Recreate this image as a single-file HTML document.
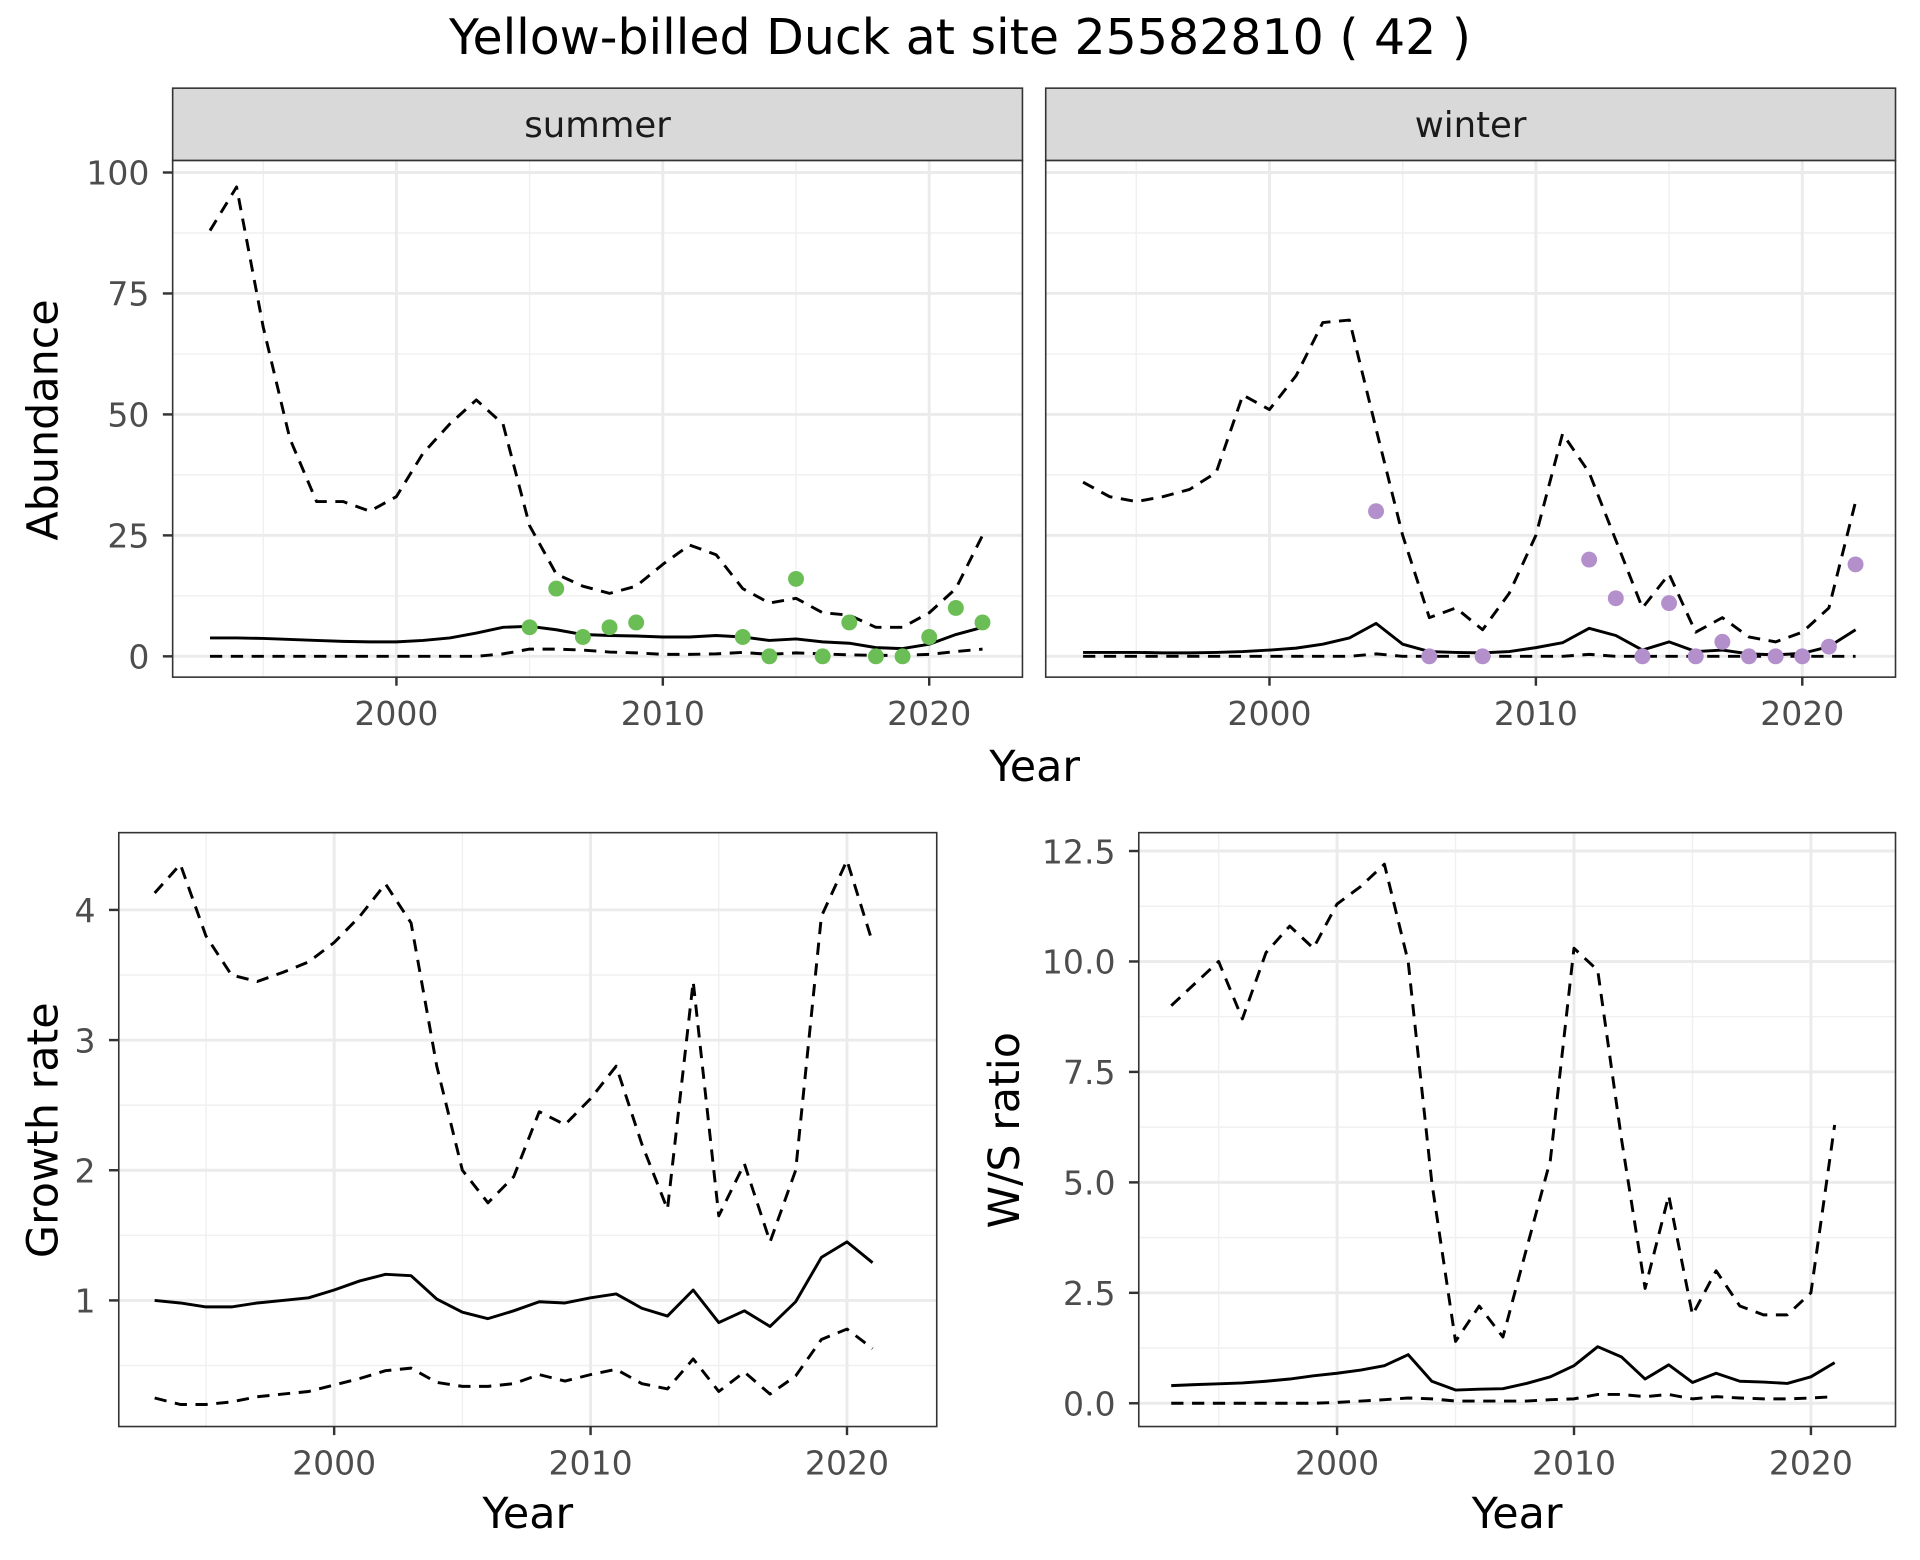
<!DOCTYPE html>
<html><head><meta charset="utf-8"><style>
html,body{margin:0;padding:0;background:#fff;}
svg{display:block;font-family:"DejaVu Sans","Liberation Sans",sans-serif;}
</style></head><body>
<svg id="chart" width="1920" height="1560" viewBox="0 0 1568 1274" xmlns="http://www.w3.org/2000/svg">
<rect width="1568" height="1274" fill="#fff"/>
<text x="784" y="44" text-anchor="middle" font-size="40" fill="#000">Yellow-billed Duck at site 25582810 ( 42 )</text>
<g id="g"></g>
</svg>
<script>
const yearsA = [1993,1994,1995,1996,1997,1998,1999,2000,2001,2002,2003,2004,2005,2006,2007,2008,2009,2010,2011,2012,2013,2014,2015,2016,2017,2018,2019,2020,2021,2022];
const summerMean = [3.8,3.8,3.7,3.5,3.3,3.1,3.0,3.0,3.3,3.8,4.8,6.0,6.2,5.5,4.5,4.3,4.2,4.0,4.0,4.3,4.0,3.3,3.6,3.0,2.7,1.8,1.6,2.5,4.5,6.0];
const summerUpper = [88,97,68,45,32,32,30,33,42,48,53,48,27,17,14.5,13,14.5,19,23,21,14,11,12,9,8.5,6,6,9,14,25];
const summerLower = [0,0,0,0,0,0,0,0,0,0,0,0.5,1.5,1.5,1.3,0.9,0.7,0.4,0.4,0.5,0.8,0.4,0.7,0.5,0.3,0.2,0.2,0.4,1.0,1.5];
const summerObsYears = [2005,2006,2007,2008,2009,2013,2014,2015,2016,2017,2018,2019,2020,2021,2022];
const summerObs = [6,14,4,6,7,4,0,16,0,7,0,0,4,10,7];
const winterMean = [0.8,0.8,0.8,0.7,0.7,0.8,1.0,1.3,1.7,2.5,3.8,6.8,2.5,1.0,0.8,0.7,1.0,1.8,2.8,5.8,4.3,1.3,3.0,1.0,1.3,0.5,0.3,0.6,2.0,5.5];
const winterUpper = [36,33,32,33,34.5,38,54,51,58,69,69.5,47,25,8,10,5.5,13,25,46,38,24,10,17,5,8,4,3,5,10,32];
const winterLower = [0,0,0,0,0,0,0,0,0,0,0,0.5,0,0,0,0,0,0,0,0.4,0,0,0,0,0,0,0,0,0,0];
const winterObsYears = [2004,2006,2008,2012,2013,2014,2015,2016,2017,2018,2019,2020,2021,2022];
const winterObs = [30,0,0,20,12,0,11,0,3,0,0,0,2,19];
const yearsB = [1993,1994,1995,1996,1997,1998,1999,2000,2001,2002,2003,2004,2005,2006,2007,2008,2009,2010,2011,2012,2013,2014,2015,2016,2017,2018,2019,2020,2021];
const growthMean = [1.0,0.98,0.95,0.95,0.98,1.0,1.02,1.08,1.15,1.2,1.19,1.01,0.91,0.86,0.92,0.99,0.98,1.02,1.05,0.94,0.88,1.08,0.83,0.92,0.8,0.99,1.33,1.45,1.29];
const growthUpper = [4.13,4.35,3.8,3.5,3.45,3.52,3.6,3.75,3.95,4.2,3.9,2.8,2.0,1.75,1.95,2.45,2.35,2.55,2.8,2.2,1.7,3.45,1.65,2.05,1.45,2.0,3.95,4.38,3.75];
const growthLower = [0.25,0.2,0.2,0.22,0.26,0.28,0.3,0.35,0.4,0.46,0.48,0.37,0.34,0.34,0.36,0.43,0.38,0.43,0.47,0.36,0.32,0.55,0.3,0.45,0.28,0.42,0.7,0.78,0.63];
const ratioMean = [0.4,0.42,0.44,0.46,0.5,0.55,0.62,0.68,0.75,0.85,1.1,0.5,0.3,0.32,0.33,0.45,0.6,0.85,1.28,1.05,0.55,0.87,0.47,0.68,0.5,0.48,0.45,0.6,0.92];
const ratioUpper = [9.0,9.5,10.0,8.7,10.2,10.8,10.3,11.3,11.7,12.2,10.0,5.0,1.4,2.2,1.5,3.5,5.5,10.3,9.8,6.0,2.6,4.7,2.0,3.0,2.2,2.0,2.0,2.5,6.3];
const ratioLower = [0,0,0,0,0,0,0,0.02,0.05,0.08,0.12,0.1,0.05,0.05,0.05,0.05,0.08,0.1,0.2,0.2,0.15,0.2,0.1,0.15,0.12,0.1,0.1,0.12,0.15];
const xTicks = [2000,2010,2020];
const xMinor = [1995,2005,2015];
const abundTicks = [0,25,50,75,100];
const growthTicks = [1,2,3,4];
const ratioTicks = ["0.0","2.5","5.0","7.5","10.0","12.5"];

const NS="http://www.w3.org/2000/svg";
const G=document.getElementById('g');
function mk(tag,attrs,parent){const e=document.createElementNS(NS,tag);for(const k in attrs)e.setAttribute(k,attrs[k]);(parent||G).appendChild(e);return e;}

function panel(o){
  const sx=v=>o.x0+(v-o.xmin)/(o.xmax-o.xmin)*(o.x1-o.x0);
  const sy=v=>o.y1-(v-o.ymin)/(o.ymax-o.ymin)*(o.y1-o.y0);
  const grp=mk('g',{});
  
  
  xMinor.forEach(v=>{const l=mk('line',{x1:sx(v),x2:sx(v),y1:o.y0,y2:o.y1,stroke:'#f0f0f0','stroke-width':1.2},grp);});
  o.yMinor.forEach(v=>{const l=mk('line',{x1:o.x0,x2:o.x1,y1:sy(v),y2:sy(v),stroke:'#f0f0f0','stroke-width':1.2},grp);});
  xTicks.forEach(v=>{const l=mk('line',{x1:sx(v),x2:sx(v),y1:o.y0,y2:o.y1,stroke:'#ebebeb','stroke-width':2.4},grp);});
  o.yTicks.forEach(t=>{const v=parseFloat(t);const l=mk('line',{x1:o.x0,x2:o.x1,y1:sy(v),y2:sy(v),stroke:'#ebebeb','stroke-width':2.4},grp);});
  function line(xs,ys,dash,nm){
    const d=xs.map((x,i)=>(i?'L':'M')+sx(x).toFixed(1)+','+sy(ys[i]).toFixed(1)).join('');
    const p=mk('path',{d:d,fill:'none',stroke:'#000','stroke-width':2.4,'stroke-dasharray':dash?'10,7':'none','stroke-linejoin':'round'},grp);
    
    
  }
  line(o.xs,o.upper,true,'upper-bound-line');
  line(o.xs,o.lower,true,'lower-bound-line');
  line(o.xs,o.mean,false,'mean-line');
  if(o.obs){o.obsX.forEach((x,i)=>{const c=mk('circle',{cx:sx(x),cy:sy(o.obs[i]),r:6.5,fill:o.color},grp);});}
  const b=mk('rect',{x:o.x0,y:o.y0,width:o.x1-o.x0,height:o.y1-o.y0,fill:'none',stroke:'#333','stroke-width':1.3},grp);
  
  if(o.xLabels){xTicks.forEach(v=>{mk('line',{x1:sx(v),x2:sx(v),y1:o.y1,y2:o.y1+7,stroke:'#333','stroke-width':2},grp);
    const t=mk('text',{x:sx(v),y:o.y1+39,'text-anchor':'middle','font-size':27,fill:'#4d4d4d'},grp);t.textContent=v;});}
  if(o.yLabels){o.yTicks.forEach(tk=>{const v=parseFloat(tk);mk('line',{x1:o.x0-8,x2:o.x0,y1:sy(v),y2:sy(v),stroke:'#333','stroke-width':2},grp);
    const t=mk('text',{x:o.x0-19,y:sy(v)+10,'text-anchor':'end','font-size':27,fill:'#4d4d4d'},grp);t.textContent=tk;});}
  if(o.strip){const s=mk('rect',{x:o.x0,y:72,width:o.x1-o.x0,height:o.y0-72,fill:'#d9d9d9',stroke:'#333','stroke-width':1.3},grp);
    
    const t=mk('text',{x:(o.x0+o.x1)/2,y:112,'text-anchor':'middle','font-size':29,fill:'#1a1a1a'},grp);t.textContent=o.strip;}
}
const topMinor=[12.5,37.5,62.5,87.5];
panel({name:'summer-panel',strip:'summer',x0:141,x1:835,y0:131,y1:553,xmin:1991.6,xmax:2023.5,ymin:-4.3,ymax:102.5,xs:yearsA,mean:summerMean,upper:summerUpper,lower:summerLower,obsX:summerObsYears,obs:summerObs,color:'#6BBE55',yTicks:abundTicks,yMinor:topMinor,xLabels:true,yLabels:true});
panel({name:'winter-panel',strip:'winter',x0:854,x1:1548,y0:131,y1:553,xmin:1991.6,xmax:2023.5,ymin:-4.3,ymax:102.5,xs:yearsA,mean:winterMean,upper:winterUpper,lower:winterLower,obsX:winterObsYears,obs:winterObs,color:'#B38FCC',yTicks:abundTicks,yMinor:topMinor,xLabels:true,yLabels:false});
panel({name:'growth-rate-panel',x0:97,x1:765,y0:680,y1:1165,xmin:1991.6,xmax:2023.5,ymin:1-(1165-1062)/106.3,ymax:1+(1062-680)/106.3,xs:yearsB,mean:growthMean,upper:growthUpper,lower:growthLower,yTicks:growthTicks,yMinor:[0.5,1.5,2.5,3.5],xLabels:true,yLabels:true});
panel({name:'ws-ratio-panel',x0:930,x1:1548,y0:680,y1:1165,xmin:1991.63,xmax:2023.57,ymin:-(1165-1146)/36.08,ymax:(1146-680)/36.08,xs:yearsB,mean:ratioMean,upper:ratioUpper,lower:ratioLower,yTicks:ratioTicks,yMinor:[1.25,3.75,6.25,8.75,11.25],xLabels:true,yLabels:true});
function lbl(txt,x,y,rot,nm){const t=mk('text',{x:x,y:y,'text-anchor':'middle','font-size':35,fill:'#000',transform:rot?`rotate(-90 ${x} ${y})`:''});t.textContent=txt;}
lbl('Year',845,638,false,'x-axis-title-top');
lbl('Abundance',47,343,true,'y-axis-title-abundance');
lbl('Year',431,1248,false,'x-axis-title-growth');
lbl('Growth rate',47,923,true,'y-axis-title-growth');
lbl('Year',1239,1248,false,'x-axis-title-ratio');
lbl('W/S ratio',832,923,true,'y-axis-title-ratio');
</script>
</body></html>
